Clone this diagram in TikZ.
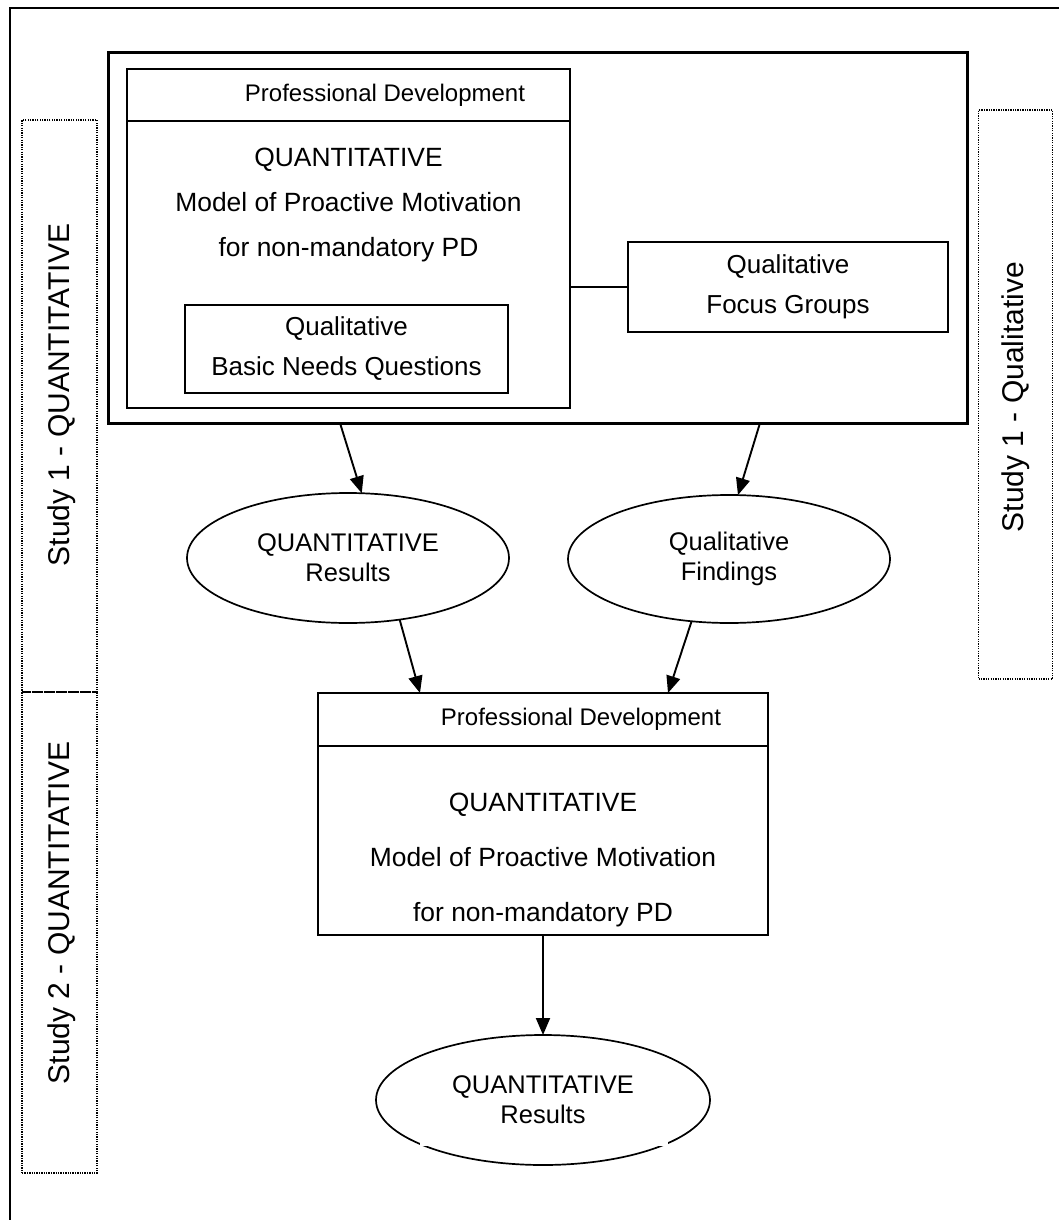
\documentclass[tikz,border=0pt]{standalone}
\usepackage{fontspec}
\setmainfont{Liberation Sans}
\usetikzlibrary{shapes.geometric,arrows.meta}
\begin{document}
\begin{tikzpicture}[x=1pt,y=-1pt,
  frame/.style={draw, inner sep=0pt, outer sep=0pt},
  oval/.style={draw, ellipse, line width=1.7pt, inner sep=0pt, outer sep=0pt, align=center,
    font=\fontsize{25.5}{30}\selectfont},
  bodytext/.style={align=center, inner sep=0pt, font=\fontsize{26.4}{45}\selectfont},
  headtext/.style={inner sep=0pt, font=\fontsize{24}{28}\selectfont},
  sidebox/.style={draw, line width=1.4pt, dash pattern=on 1.3pt off 1.1pt, inner sep=0pt, outer sep=0pt},
  sidetext/.style={rotate=90, inner sep=0pt, font=\fontsize{30}{36}\selectfont},
  arr/.style={line width=1.9pt, -{Triangle[length=17pt,width=14pt]}}]
\clip (0,0) rectangle (1059,1220);
\useasboundingbox (0,0) rectangle (1059,1220);
\fill[white] (0,0) rectangle (1059,1220);

% page frame (its right and bottom edges lie past the page)
\draw[line width=2.3pt] (10,8) rectangle (1080,1240);

% study bands at the sides
\node[sidebox, minimum width=75pt, minimum height=572pt] (band1) at (59.5,406) {};
\node[sidebox, minimum width=75pt, minimum height=481pt] (band2) at (59.5,932.5) {};
\node[sidebox, minimum width=74pt, minimum height=569pt] (band3) at (1015.5,394.5) {};
\node[sidetext] (band1t) at (62,395) {Study 1 - QUANTITATIVE};
\node[sidetext] (band2t) at (62,913) {Study 2 - QUANTITATIVE};
\node[sidetext] (band3t) at (1016,397) {Study 1 - Qualitative};

% study 1 design block
\node[frame, line width=3pt, minimum width=859pt, minimum height=370pt] (outer) at (537.5,238) {};
\node[frame, line width=1.9pt, minimum width=443pt, minimum height=339pt] (pd1) at (348.5,238.5) {};
\draw[line width=1.9pt] ([yshift=-52pt]pd1.north west) -- ([yshift=-52pt]pd1.north east);
\node[headtext] (pd1h) at (385,95) {Professional Development};
\node[bodytext] (pd1b) at (348.5,205) {QUANTITATIVE\\Model of Proactive Motivation\\for non-mandatory PD};
\node[frame, line width=1.9pt, minimum width=323pt, minimum height=88pt, align=center,
  font=\fontsize{26}{40}\selectfont] (bn) at (346.5,349) {Qualitative\\Basic Needs Questions};
\node[frame, line width=1.9pt, minimum width=320pt, minimum height=90pt, align=center,
  font=\fontsize{26}{40}\selectfont] (fg) at (788,287) {Qualitative\\Focus Groups};
\draw[line width=1.6pt] (pd1.east |- fg.west) -- (fg.west);

% results of study 1
\node[oval, minimum width=322pt, minimum height=130pt] (q1) at (348,558) {QUANTITATIVE\\Results};
\node[oval, minimum width=322pt, minimum height=128pt] (q2) at (729,559) {Qualitative\\Findings};
\coordinate (s1) at (340,423);
\coordinate (s2) at (760,423);
\draw[arr] (s1) -- (q1.78);
\draw[arr] (s2) -- (q2.82);

% study 2 design block
\node[frame, line width=2.4pt, minimum width=450pt, minimum height=242pt] (pd2) at (543,814) {};
\draw[line width=1.9pt] ([yshift=-53pt]pd2.north west) -- ([yshift=-53pt]pd2.north east);
\node[headtext] (pd2h) at (581,719.5) {Professional Development};
\node[bodytext, font=\fontsize{26.4}{55}\selectfont] (pd2b) at (543,860) {QUANTITATIVE\\Model of Proactive Motivation\\for non-mandatory PD};
\coordinate (e1) at (420,693);
\coordinate (e2) at (668,693);
\draw[arr] (q1.-50) -- (e1);
\draw[arr] (q2.-121) -- (e2);

% result of study 2, its outline broken low on both sides
\node[oval, minimum width=334pt, minimum height=130pt] (q3) at (543,1100) {QUANTITATIVE\\Results};
\draw[arr] (pd2.south) -- (q3.north);
\fill[white] (420,1141) rectangle (668,1145.5);
\end{tikzpicture}
\end{document}
